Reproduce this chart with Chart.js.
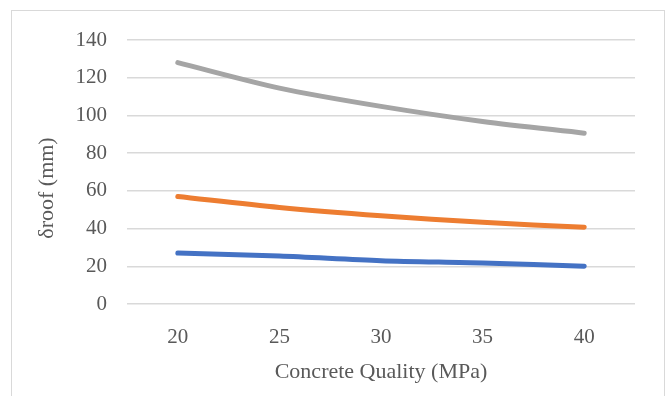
<!DOCTYPE html>
<html>
<head>
<meta charset="utf-8">
<script src="https://cdn.jsdelivr.net/npm/chart.js@4"></script>
<style>
  body { margin: 0; background: #fff; }
  .frame { position: absolute; left: 11px; top: 10px; width: 652px; height: 400px; border: 1px solid #d9d9d9; }
  .wrap { position: absolute; left: 0; top: 0; width: 667px; height: 396px; }
</style>
</head>
<body>
<div class="frame"></div>
<div class="wrap"><canvas id="chart"></canvas></div>
<script>
const categories = ['20', '25', '30', '35', '40'];
const series1 = [27.0, 25.5, 23.0, 21.8, 20.0];
const series2 = [57.0, 51.2, 46.8, 43.3, 40.7];
const series3 = [128.0, 114.5, 104.8, 96.8, 90.6];
const yTitle = 'δroof (mm)';
const xTitle = 'Concrete Quality (MPa)';

const FONT = '"Liberation Serif", "DejaVu Serif", serif';
const TEXT = '#595959';

// y title drawn at a fixed spot, it sits a bit lower than the plot centre
const yTitlePlugin = {
    id: 'yTitle',
    afterDraw(chart) {
        const ctx = chart.ctx;
        ctx.save();
        ctx.translate(47, 188);
        ctx.rotate(-Math.PI / 2);
        ctx.font = '22px ' + FONT;
        ctx.fillStyle = TEXT;
        ctx.textAlign = 'center';
        ctx.textBaseline = 'middle';
        ctx.fillText(yTitle, 0, 0);
        ctx.restore();
    }
};

function line(label, data, color) {
    return {
        label: label,
        data: data,
        borderColor: color,
        backgroundColor: color,
        borderWidth: 5,
        borderCapStyle: 'round',
        borderJoinStyle: 'round',
        pointRadius: 0,
        tension: 0.3,
        fill: false
    };
}

const ctx = document.getElementById('chart').getContext('2d');
new Chart(ctx, {
    type: 'line',
    data: {
        labels: categories,
        datasets: [
            line('Series 1', series1, '#4472C4'),
            line('Series 2', series2, '#ED7D31'),
            line('Series 3', series3, '#A5A5A5')
        ]
    },
    options: {
        responsive: true,
        maintainAspectRatio: false,
        animation: false,
        layout: { padding: { left: 0, right: 32, top: 40, bottom: 0 } },
        scales: {
            x: {
                offset: true,
                grid: { display: false, drawTicks: false },
                border: { display: false },
                ticks: { color: TEXT, font: { family: FONT, size: 21 }, padding: 21 },
                title: { display: true, text: xTitle, color: TEXT, font: { family: FONT, size: 22 }, padding: { top: 0, bottom: 11 } },
                afterFit(scale) { scale.height = 92; }
            },
            y: {
                min: 0,
                max: 140,
                ticks: { stepSize: 20, color: TEXT, font: { family: FONT, size: 21 }, padding: 20 },
                grid: { color: '#d9d9d9', lineWidth: 1.5, drawTicks: false },
                border: { display: false },
                afterFit(scale) { scale.width = 127; }
            }
        },
        plugins: {
            legend: { display: false },
            tooltip: { enabled: false }
        }
    },
    plugins: [yTitlePlugin]
});
</script>
</body>
</html>
